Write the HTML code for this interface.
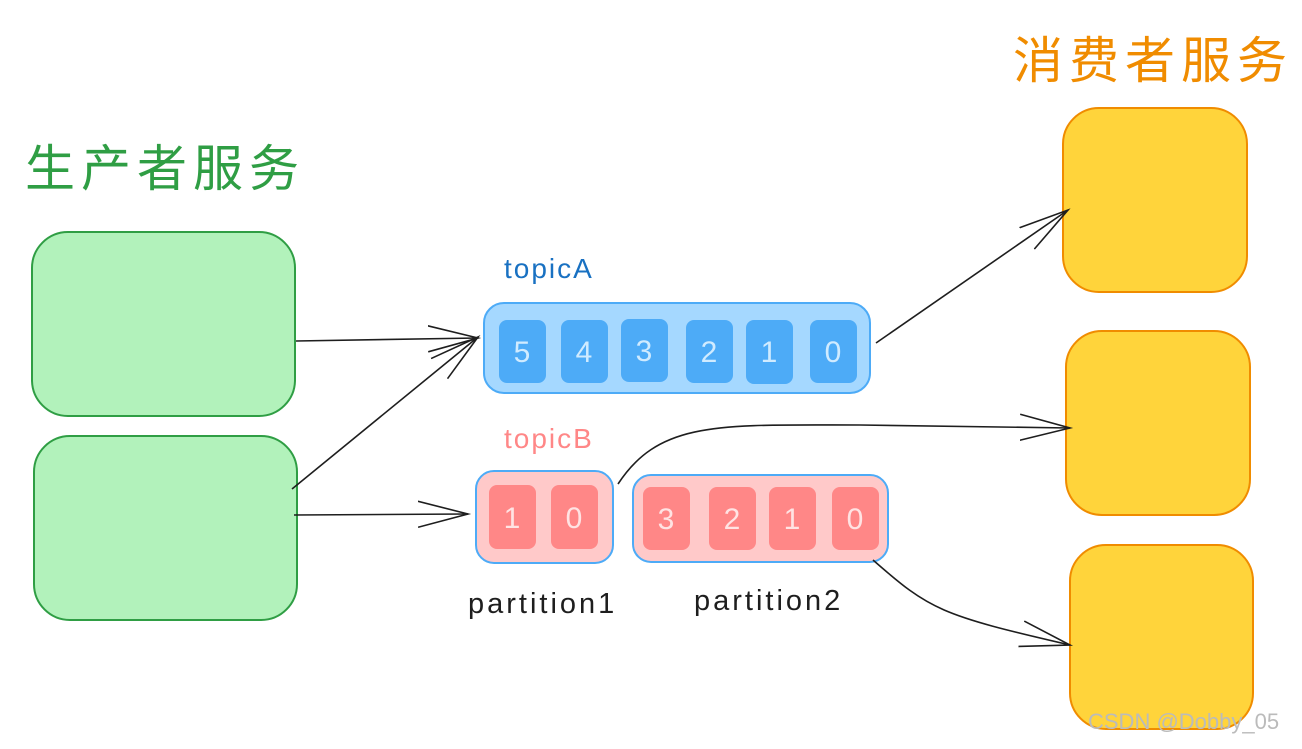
<!DOCTYPE html>
<html><head><meta charset="utf-8"><style>
body{margin:0;background:#fff;width:1302px;height:744px;overflow:hidden}
svg text{font-family:"Liberation Sans","Noto Sans CJK SC",sans-serif}
</style></head><body>
<svg width="1302" height="744" xmlns="http://www.w3.org/2000/svg">
<defs><marker id="a" markerWidth="60" markerHeight="40" refX="50" refY="20" orient="auto" markerUnits="userSpaceOnUse"><path d="M0,7 L50,20 L0,33" fill="none" stroke="#1e1e1e" stroke-width="1.6"/></marker></defs>
<text x="25" y="186" font-size="50" fill="#2f9e44" letter-spacing="6">生产者服务</text>
<text x="1013" y="78" font-size="50" fill="#f08c00" letter-spacing="6">消费者服务</text>
<rect x="32" y="232" width="263" height="184" rx="36" fill="#b2f2bb" stroke="#2f9e44" stroke-width="2"/>
<rect x="34" y="436" width="263" height="184" rx="36" fill="#b2f2bb" stroke="#2f9e44" stroke-width="2"/>
<rect x="1063" y="108" width="184" height="184" rx="36" fill="#ffd43b" stroke="#f08c00" stroke-width="2"/>
<rect x="1066" y="331" width="184" height="184" rx="36" fill="#ffd43b" stroke="#f08c00" stroke-width="2"/>
<rect x="1070" y="545" width="183" height="184" rx="36" fill="#ffd43b" stroke="#f08c00" stroke-width="2"/>
<text x="504" y="278" font-size="28" fill="#1971c2" letter-spacing="2">topicA</text>
<rect x="484" y="303" width="386" height="90" rx="20" fill="#a5d8ff" stroke="#4dabf7" stroke-width="2"/>
<g fill="#4dabf7">
<rect x="499" y="320" width="47" height="63" rx="8"/><rect x="561" y="320" width="47" height="63" rx="8"/><rect x="621" y="319" width="47" height="63" rx="8"/><rect x="686" y="320" width="47" height="63" rx="8"/><rect x="746" y="320" width="47" height="64" rx="8"/><rect x="810" y="320" width="47" height="63" rx="8"/></g>
<g fill="#d0ebff" font-size="30" text-anchor="middle">
<text x="522" y="362">5</text><text x="584" y="362">4</text><text x="644" y="361">3</text><text x="709" y="362">2</text><text x="769" y="362">1</text><text x="833" y="362">0</text></g>
<text x="504" y="448" font-size="28" fill="#ff8787" letter-spacing="2">topicB</text>
<rect x="476" y="471" width="137" height="92" rx="18" fill="#ffc9c9" stroke="#4dabf7" stroke-width="2"/>
<rect x="633" y="475" width="255" height="87" rx="18" fill="#ffc9c9" stroke="#4dabf7" stroke-width="2"/>
<g fill="#ff8787">
<rect x="489" y="485" width="47" height="64" rx="8"/><rect x="551" y="485" width="47" height="64" rx="8"/>
<rect x="643" y="487" width="47" height="63" rx="8"/><rect x="709" y="487" width="47" height="63" rx="8"/><rect x="769" y="487" width="47" height="63" rx="8"/><rect x="832" y="487" width="47" height="63" rx="8"/></g>
<g fill="#ffe3e3" font-size="30" text-anchor="middle">
<text x="512" y="528">1</text><text x="574" y="528">0</text>
<text x="666" y="529">3</text><text x="732" y="529">2</text><text x="792" y="529">1</text><text x="855" y="529">0</text></g>
<text x="468" y="613" font-size="29" fill="#1e1e1e" letter-spacing="3">partition1</text>
<text x="694" y="610" font-size="29" fill="#1e1e1e" letter-spacing="3">partition2</text>
<g fill="none" stroke="#1e1e1e" stroke-width="1.6" marker-end="url(#a)">
<path d="M296,341 L478,338"/>
<path d="M292,489 L478,337"/>
<path d="M294,515 L468,514"/>
<path d="M876,343 L1068,210"/>
<path d="M618,484 C660,420 720,425 860,425 L1070,428"/>
<path d="M873,560 C930,610 940,615 1070,645"/>
</g>
<text x="1088" y="729" font-size="22" fill="#bbbbbb">CSDN @Dobby_05</text>
</svg>
</body></html>
